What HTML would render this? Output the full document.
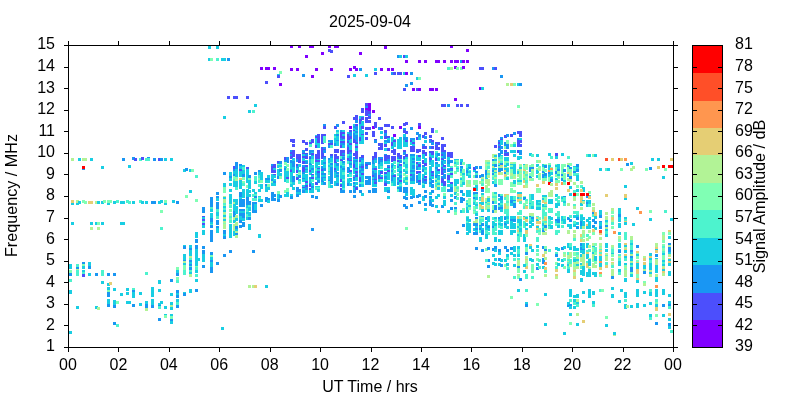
<!DOCTYPE html><html><head><meta charset="utf-8"><style>html,body{margin:0;padding:0;background:#fff;}svg{display:block;will-change:transform}text{font-family:"Liberation Sans", Arial, sans-serif;font-size:16px;fill:#000}</style></head><body><svg width="800" height="400" viewBox="0 0 800 400"><rect width="800" height="400" fill="#fff"/><g shape-rendering="crispEdges"><path fill="#8000ff" d="M298 46h3v2h-3zM309 46h5v2h-5zM450 46h3v2h-3zM328 46h3v2h-3zM334 46h5v2h-5zM290 46h3v2h-3zM384 46h3v3h-3zM466 49h3v3h-3zM359 52h3v3h-3zM321 52h3v3h-3zM305 55h3v3h-3zM466 60h3v3h-3zM405 60h3v3h-3zM435 60h5v3h-5zM462 60h3v3h-3zM443 60h3v3h-3zM454 60h5v3h-5zM424 60h3v3h-3zM418 60h3v3h-3zM450 60h3v3h-3zM454 66h3v1h-3zM353 66h3v2h-3zM454 67h2v2h-2zM353 68h5v1h-5zM462 66h3v3h-3zM265 67h5v3h-5zM273 67h3v3h-3zM260 67h3v3h-3zM391 68h3v3h-3zM330 68h3v3h-3zM355 69h3v2h-3zM349 68h3v3h-3zM315 68h3v3h-3zM380 68h3v3h-3zM296 68h3v3h-3zM290 68h3v3h-3zM387 68h3v3h-3zM405 72h3v3h-3zM311 75h3v3h-3zM279 83h3v3h-3zM479 87h2v3h-2zM429 88h5v3h-5zM412 88h3v3h-3zM435 88h3v3h-3zM418 88h3v3h-3zM454 98h3v3h-3zM368 103h3v5h-3zM365 108h6v2h-6zM368 110h3v1h-3zM372 110h3v3h-3zM372 126h2v2h-2zM349 126h3v3h-3zM399 126h3v3h-3zM372 128h3v1h-3zM418 126h3v3h-3zM393 134h3v3h-3z"/><path fill="#4c4ffc" d="M328 49h3v1h-3zM328 50h5v2h-5zM330 52h3v1h-3zM403 55h2v3h-2zM479 67h5v3h-5zM494 67h3v3h-3zM374 72h3v3h-3zM393 72h3v3h-3zM397 72h5v3h-5zM277 75h3v3h-3zM347 75h3v3h-3zM265 81h3v3h-3zM403 88h3v3h-3zM416 88h2v3h-2zM246 96h3v3h-3zM233 96h5v3h-5zM227 96h3v3h-3zM365 103h3v3h-3zM456 104h3v3h-3zM441 104h5v3h-5zM466 104h3v3h-3zM460 104h3v3h-3zM365 110h3v1h-3zM361 108h3v5h-3zM365 111h6v3h-6zM365 114h3v2h-3zM355 115h3v2h-3zM368 116h3v1h-3zM361 117h3v2h-3zM365 117h6v2h-6zM359 119h5v1h-5zM353 117h5v3h-5zM378 117h3v3h-3zM365 119h3v1h-3zM359 120h3v1h-3zM365 120h6v3h-6zM405 122h3v1h-3zM359 121h2v3h-2zM342 121h3v3h-3zM403 123h5v2h-5zM355 124h3v2h-3zM418 123h3v3h-3zM403 125h3v1h-3zM334 126h2v1h-2zM384 124h6v3h-6zM374 122h3v6h-3zM323 126h3v3h-3zM334 127h3v2h-3zM361 126h3v3h-3zM391 126h3v3h-3zM380 127h3v3h-3zM365 127h6v3h-6zM403 130h3v1h-3zM353 130h2v1h-2zM349 130h3v2h-3zM403 131h5v2h-5zM431 128h3v5h-3zM384 130h3v3h-3zM340 132h5v2h-5zM405 133h3v1h-3zM517 131h5v3h-5zM365 132h3v3h-3zM424 132h3v3h-3zM361 134h3v1h-3zM347 134h2v2h-2zM340 134h2v2h-2zM317 134h3v2h-3zM422 135h3v1h-3zM321 134h5v2h-5zM519 134h3v3h-3zM510 134h3v3h-3zM372 131h3v6h-3zM504 135h2v2h-2zM504 137h3v1h-3zM429 135h3v3h-3zM384 136h6v2h-6zM315 136h5v2h-5zM340 136h5v2h-5zM422 136h2v2h-2zM347 136h5v3h-5zM384 138h3v1h-3zM342 138h3v1h-3zM429 139h3v1h-3zM441 137h3v3h-3zM347 139h3v1h-3zM500 139h3v1h-3zM365 137h3v3h-3zM374 139h3v1h-3zM353 139h2v1h-2zM416 137h2v3h-2zM359 137h2v4h-2zM393 140h3v2h-3zM353 140h3v2h-3zM431 140h3v2h-3zM410 140h2v2h-2zM302 140h3v2h-3zM290 139h5v3h-5zM311 139h3v3h-3zM405 140h3v2h-3zM292 142h3v1h-3zM347 141h2v2h-2zM517 140h5v3h-5zM302 142h6v1h-6zM321 136h2v7h-2zM317 138h3v5h-3zM353 142h5v1h-5zM309 142h5v1h-5zM340 141h5v2h-5zM355 143h3v1h-3zM435 142h5v2h-5zM498 142h2v2h-2zM309 143h3v1h-3zM412 142h3v2h-3zM321 143h3v1h-3zM517 143h3v1h-3zM305 143h3v2h-3zM328 143h5v2h-5zM349 143h3v2h-3zM437 144h3v1h-3zM378 143h5v3h-5zM391 142h2v4h-2zM292 144h3v3h-3zM380 146h3v1h-3zM517 144h5v3h-5zM435 145h3v2h-3zM441 144h5v3h-5zM384 144h3v3h-3zM355 146h3v2h-3zM315 145h2v3h-2zM340 145h2v3h-2zM498 146h2v2h-2zM494 145h3v3h-3zM321 147h2v2h-2zM431 146h3v3h-3zM422 146h5v3h-5zM321 149h5v1h-5zM347 147h2v3h-2zM393 149h3v1h-3zM435 147h5v3h-5zM378 147h5v3h-5zM441 147h3v3h-3zM305 148h3v3h-3zM387 148h3v3h-3zM292 150h3v2h-3zM504 150h3v2h-3zM410 146h5v6h-5zM441 150h5v2h-5zM403 150h3v2h-3zM416 149h5v3h-5zM347 150h5v2h-5zM422 150h3v2h-3zM355 151h3v2h-3zM321 150h2v3h-2zM391 150h5v3h-5zM429 151h5v2h-5zM517 150h2v3h-2zM416 152h3v1h-3zM340 150h5v3h-5zM334 149h5v4h-5zM347 152h2v2h-2zM302 153h6v1h-6zM317 150h3v4h-3zM422 152h5v2h-5zM290 152h5v2h-5zM393 153h3v2h-3zM340 153h2v2h-2zM431 153h3v2h-3zM311 153h3v2h-3zM397 153h3v2h-3zM292 154h3v2h-3zM504 153h5v3h-5zM353 153h5v3h-5zM441 154h2v2h-2zM321 153h3v3h-3zM374 152h3v4h-3zM425 154h2v2h-2zM340 155h5v1h-5zM334 154h3v2h-3zM555 153h3v3h-3zM405 154h3v2h-3zM330 154h3v2h-3zM447 152h6v5h-6zM403 156h5v1h-5zM290 156h5v1h-5zM321 156h5v1h-5zM361 155h3v2h-3zM397 155h5v2h-5zM418 155h3v2h-3zM359 157h5v1h-5zM302 156h6v2h-6zM290 157h3v1h-3zM429 157h2v1h-2zM450 157h3v1h-3zM372 156h5v2h-5zM290 158h2v1h-2zM296 154h5v5h-5zM355 156h3v3h-3zM309 157h2v2h-2zM321 157h2v2h-2zM305 158h3v1h-3zM384 155h6v4h-6zM399 157h3v2h-3zM315 154h5v5h-5zM441 158h2v1h-2zM403 157h2v2h-2zM334 156h5v3h-5zM347 158h2v2h-2zM372 158h2v2h-2zM380 159h3v1h-3zM429 158h3v2h-3zM441 159h3v1h-3zM340 159h2v1h-2zM141 157h3v3h-3zM284 157h2v3h-2zM134 158h3v3h-3zM391 156h5v5h-5zM435 158h2v3h-2zM349 160h3v1h-3zM158 158h2v3h-2zM384 159h3v2h-3zM340 160h3v1h-3zM397 160h2v2h-2zM334 159h2v3h-2zM359 160h2v2h-2zM315 160h5v2h-5zM391 161h2v1h-2zM298 159h3v4h-3zM277 161h2v2h-2zM334 162h3v1h-3zM422 160h2v3h-2zM302 161h3v3h-3zM422 163h5v1h-5zM416 162h2v2h-2zM296 164h2v2h-2zM399 164h3v2h-3zM365 164h3v2h-3zM424 164h3v2h-3zM273 164h3v2h-3zM418 164h3v3h-3zM305 165h3v2h-3zM443 165h3v2h-3zM387 167h3v1h-3zM353 164h2v4h-2zM361 166h3v2h-3zM271 166h5v2h-5zM441 167h2v2h-2zM355 168h3v1h-3zM246 167h3v2h-3zM473 167h2v2h-2zM450 168h3v1h-3zM317 168h3v1h-3zM233 166h2v3h-2zM473 169h3v1h-3zM334 168h2v2h-2zM271 168h2v2h-2zM441 169h5v1h-5zM374 168h3v2h-3zM321 169h2v2h-2zM437 169h3v2h-3zM239 169h3v2h-3zM290 170h2v2h-2zM387 170h3v2h-3zM349 170h3v2h-3zM309 170h2v2h-2zM302 167h3v5h-3zM296 170h2v3h-2zM416 171h5v2h-5zM441 170h2v3h-2zM355 171h3v2h-3zM317 171h3v2h-3zM431 171h3v2h-3zM271 170h5v3h-5zM380 171h3v3h-3zM441 173h3v1h-3zM416 173h2v1h-2zM384 172h3v2h-3zM441 174h2v1h-2zM311 174h3v1h-3zM450 173h3v2h-3zM361 173h3v2h-3zM273 174h3v1h-3zM410 174h2v2h-2zM431 175h3v1h-3zM378 175h2v2h-2zM355 175h3v2h-3zM393 175h3v2h-3zM372 175h2v2h-2zM296 177h2v1h-2zM353 177h2v1h-2zM424 176h3v2h-3zM441 178h2v1h-2zM311 177h3v2h-3zM296 178h3v1h-3zM286 177h3v2h-3zM378 177h5v2h-5zM296 179h2v1h-2zM447 175h3v5h-3zM374 179h3v1h-3zM441 179h3v2h-3zM424 179h3v2h-3zM340 179h2v3h-2zM359 177h2v5h-2zM399 180h3v2h-3zM418 180h3v2h-3zM315 182h2v1h-2zM305 181h3v2h-3zM441 181h5v2h-5zM450 182h3v2h-3zM374 182h3v2h-3zM315 183h3v2h-3zM443 183h3v3h-3zM384 183h3v3h-3zM309 184h2v3h-2zM340 184h2v3h-2zM305 185h3v2h-3zM353 186h2v1h-2zM302 187h3v1h-3zM355 187h3v3h-3zM309 188h2v2h-2zM340 188h2v2h-2zM202 216h3v1h-3zM202 219h3v2h-3zM202 223h3v2h-3zM82 274h3v3h-3z"/><path fill="#1996f3" d="M397 55h2v3h-2zM227 58h3v3h-3zM460 60h2v3h-2zM492 67h2v3h-2zM359 68h3v3h-3zM391 72h2v3h-2zM410 72h3v3h-3zM302 74h3v3h-3zM500 75h3v3h-3zM410 82h3v3h-3zM519 83h3v3h-3zM405 84h3v3h-3zM447 104h3v3h-3zM365 106h3v2h-3zM368 114h3v2h-3zM355 120h3v3h-3zM323 124h3v2h-3zM336 124h3v3h-3zM353 126h5v2h-5zM355 128h3v1h-3zM403 128h3v2h-3zM378 127h2v3h-2zM356 129h2v1h-2zM410 127h3v3h-3zM340 130h2v2h-2zM355 131h3v2h-3zM416 132h3v2h-3zM416 134h5v1h-5zM513 132h3v3h-3zM353 133h2v2h-2zM349 132h3v4h-3zM384 133h3v3h-3zM336 134h3v2h-3zM506 134h3v3h-3zM418 135h3v2h-3zM353 135h5v4h-5zM500 137h3v2h-3zM340 138h2v1h-2zM424 136h3v3h-3zM403 137h5v3h-5zM517 138h2v2h-2zM340 139h3v1h-3zM355 139h3v1h-3zM410 138h5v2h-5zM336 140h3v1h-3zM347 140h2v1h-2zM328 140h5v2h-5zM498 140h2v2h-2zM384 140h6v2h-6zM429 140h2v2h-2zM356 140h2v2h-2zM429 142h5v1h-5zM387 142h3v1h-3zM374 140h3v3h-3zM330 142h3v1h-3zM504 142h2v2h-2zM498 144h2v1h-2zM431 143h3v2h-3zM435 144h2v1h-2zM340 143h5v2h-5zM504 144h5v2h-5zM422 144h3v2h-3zM498 145h3v1h-3zM334 143h2v3h-2zM347 145h2v2h-2zM500 146h3v2h-3zM328 145h2v3h-2zM506 146h3v3h-3zM429 146h2v3h-2zM323 147h3v2h-3zM498 148h5v1h-5zM498 149h3v1h-3zM498 150h5v1h-5zM309 150h5v2h-5zM290 150h2v2h-2zM504 152h5v1h-5zM302 150h3v3h-3zM500 151h3v2h-3zM323 150h3v3h-3zM403 152h3v2h-3zM441 152h5v2h-5zM349 152h3v2h-3zM498 153h5v1h-5zM498 154h3v1h-3zM384 154h3v1h-3zM403 154h2v1h-2zM342 153h3v2h-3zM309 152h2v3h-2zM519 150h3v5h-3zM437 153h3v3h-3zM311 155h3v1h-3zM290 154h2v2h-2zM410 154h5v2h-5zM305 154h3v2h-3zM498 155h2v2h-2zM309 156h2v1h-2zM132 157h3v1h-3zM435 157h2v1h-2zM330 156h3v2h-3zM147 157h3v1h-3zM378 157h5v2h-5zM323 157h3v2h-3zM353 157h2v2h-2zM443 154h3v5h-3zM397 157h2v2h-2zM349 156h3v4h-3zM412 158h3v2h-3zM374 158h3v2h-3zM328 158h2v2h-2zM132 158h2v2h-2zM342 157h3v3h-3zM315 159h2v1h-2zM359 158h5v2h-5zM286 157h3v3h-3zM378 159h2v1h-2zM160 158h3v3h-3zM492 159h2v2h-2zM387 159h3v2h-3zM153 158h3v3h-3zM290 160h2v1h-2zM347 160h2v1h-2zM443 160h3v1h-3zM122 158h3v3h-3zM296 159h2v3h-2zM353 160h5v2h-5zM378 160h5v2h-5zM429 160h2v2h-2zM284 160h5v2h-5zM447 160h6v3h-6zM279 161h3v2h-3zM290 161h5v2h-5zM399 160h3v3h-3zM412 161h3v2h-3zM342 161h3v2h-3zM287 162h2v1h-2zM372 160h2v3h-2zM372 163h3v1h-3zM441 161h2v3h-2zM323 162h3v2h-3zM403 162h2v2h-2zM277 163h5v1h-5zM447 163h3v1h-3zM353 162h2v2h-2zM378 162h2v2h-2zM309 163h2v1h-2zM435 162h3v2h-3zM365 162h6v2h-6zM305 161h3v3h-3zM349 163h3v2h-3zM500 163h3v2h-3zM309 164h3v1h-3zM368 164h3v1h-3zM460 162h2v3h-2zM330 163h3v2h-3zM441 164h3v1h-3zM498 165h2v1h-2zM567 165h2v1h-2zM239 164h3v2h-3zM361 164h3v2h-3zM336 163h3v3h-3zM422 165h2v1h-2zM626 163h3v3h-3zM271 164h2v2h-2zM422 166h3v1h-3zM302 165h3v2h-3zM567 166h3v1h-3zM292 163h3v4h-3zM494 164h3v3h-3zM296 166h2v1h-2zM387 165h3v2h-3zM576 164h3v3h-3zM359 166h2v2h-2zM296 167h3v1h-3zM347 167h2v1h-2zM321 166h2v2h-2zM340 166h2v2h-2zM391 165h2v3h-2zM468 167h3v1h-3zM460 166h3v2h-3zM544 165h3v3h-3zM397 166h2v2h-2zM469 168h2v1h-2zM412 165h3v4h-3zM235 162h3v7h-3zM529 167h5v2h-5zM479 166h3v3h-3zM475 166h3v3h-3zM365 166h3v3h-3zM435 167h3v2h-3zM321 168h5v1h-5zM569 167h3v2h-3zM649 167h3v3h-3zM311 168h3v2h-3zM361 168h3v2h-3zM416 166h2v4h-2zM284 168h2v2h-2zM82 169h3v1h-3zM372 168h2v2h-2zM290 169h2v1h-2zM347 168h3v2h-3zM342 168h3v2h-3zM305 169h3v1h-3zM447 169h6v2h-6zM233 169h2v2h-2zM323 169h3v2h-3zM498 168h5v3h-5zM557 169h3v2h-3zM359 170h5v1h-5zM334 170h2v1h-2zM460 169h2v2h-2zM185 168h3v3h-3zM576 169h3v2h-3zM529 169h2v3h-2zM542 171h2v1h-2zM334 171h3v1h-3zM258 170h3v2h-3zM410 170h5v2h-5zM573 171h6v1h-6zM498 171h3v1h-3zM563 169h3v3h-3zM279 169h3v3h-3zM391 170h2v2h-2zM447 171h3v1h-3zM422 169h2v3h-2zM492 170h2v2h-2zM359 171h2v2h-2zM399 171h3v2h-3zM573 172h3v1h-3zM347 170h2v3h-2zM475 171h3v2h-3zM466 170h2v3h-2zM443 170h3v3h-3zM372 171h2v2h-2zM542 172h3v1h-3zM302 172h3v2h-3zM504 172h2v2h-2zM555 171h2v3h-2zM336 172h3v2h-3zM548 172h2v2h-2zM544 173h3v1h-3zM372 173h5v2h-5zM355 173h3v2h-3zM431 173h3v2h-3zM481 174h3v1h-3zM492 173h2v2h-2zM321 173h5v2h-5zM485 170h2v5h-2zM223 172h3v3h-3zM254 172h3v3h-3zM561 174h2v2h-2zM233 174h2v2h-2zM443 174h3v2h-3zM542 174h5v2h-5zM435 175h5v1h-5zM567 174h2v2h-2zM529 176h2v1h-2zM567 176h5v1h-5zM336 175h3v2h-3zM242 174h3v3h-3zM479 175h5v2h-5zM399 175h3v3h-3zM542 176h2v2h-2zM412 174h3v4h-3zM248 175h3v3h-3zM317 173h3v5h-3zM441 176h5v2h-5zM435 176h2v2h-2zM229 176h3v2h-3zM475 175h3v3h-3zM298 175h3v3h-3zM529 177h3v1h-3zM479 177h2v1h-2zM321 177h5v1h-5zM302 178h3v1h-3zM374 175h3v4h-3zM443 178h3v1h-3zM429 178h2v1h-2zM384 176h3v3h-3zM349 178h3v1h-3zM569 177h3v2h-3zM309 177h2v2h-2zM365 176h6v3h-6zM277 176h2v3h-2zM265 178h5v2h-5zM372 179h2v1h-2zM368 179h3v1h-3zM330 167h3v13h-3zM429 179h3v1h-3zM397 178h2v2h-2zM410 178h5v3h-5zM271 179h2v2h-2zM561 178h2v3h-2zM321 178h2v3h-2zM391 175h2v6h-2zM422 178h2v3h-2zM328 180h5v1h-5zM353 178h2v3h-2zM550 179h3v3h-3zM431 180h3v2h-3zM374 180h3v2h-3zM321 181h3v1h-3zM416 175h2v7h-2zM292 176h3v6h-3zM429 182h5v1h-5zM416 182h5v1h-5zM422 181h5v2h-5zM384 181h3v2h-3zM273 181h3v2h-3zM317 180h3v3h-3zM424 183h3v1h-3zM353 182h2v2h-2zM330 181h3v3h-3zM309 183h2v1h-2zM429 183h3v1h-3zM323 182h3v3h-3zM418 183h3v2h-3zM365 180h6v5h-6zM397 182h2v3h-2zM336 183h3v3h-3zM347 183h2v3h-2zM265 184h2v2h-2zM494 184h3v3h-3zM359 184h2v3h-2zM431 184h3v4h-3zM311 186h3v2h-3zM450 187h3v2h-3zM397 187h5v2h-5zM296 187h3v2h-3zM305 187h3v3h-3zM447 189h6v3h-6zM399 189h3v3h-3zM296 189h5v3h-5zM481 189h3v3h-3zM353 190h3v3h-3zM431 190h3v3h-3zM460 190h3v3h-3zM403 187h5v6h-5zM302 190h3v3h-3zM349 190h3v3h-3zM387 190h3v3h-3zM340 190h5v3h-5zM368 190h3v3h-3zM372 188h5v5h-5zM424 190h3v3h-3zM359 190h3v3h-3zM271 192h3v2h-3zM473 192h5v2h-5zM216 192h3v3h-3zM418 194h3v1h-3zM498 194h2v2h-2zM563 196h3v1h-3zM403 196h3v1h-3zM454 196h3v1h-3zM416 195h5v2h-5zM239 192h3v5h-3zM271 194h5v3h-5zM296 194h3v3h-3zM498 196h5v1h-5zM353 195h3v3h-3zM216 196h3v2h-3zM460 197h3v1h-3zM279 195h3v3h-3zM416 197h3v1h-3zM265 197h3v1h-3zM311 195h3v3h-3zM271 197h3v1h-3zM424 195h3v3h-3zM586 196h2v2h-2zM410 196h5v2h-5zM429 196h3v2h-3zM254 196h3v2h-3zM290 196h3v3h-3zM403 197h5v2h-5zM315 196h3v3h-3zM454 197h2v2h-2zM523 197h3v2h-3zM410 198h3v1h-3zM473 197h2v2h-2zM523 199h2v1h-2zM500 197h3v3h-3zM265 198h5v2h-5zM405 199h3v1h-3zM460 198h5v3h-5zM271 198h5v3h-5zM510 200h6v1h-6zM246 197h3v4h-3zM429 200h2v2h-2zM450 199h3v3h-3zM277 199h3v3h-3zM265 200h2v2h-2zM510 201h3v2h-3zM460 201h3v2h-3zM176 201h3v3h-3zM492 201h2v3h-2zM252 202h5v2h-5zM418 201h3v3h-3zM151 201h5v3h-5zM586 202h2v2h-2zM429 202h3v2h-3zM498 203h2v2h-2zM246 201h5v4h-5zM403 204h3v2h-3zM429 204h5v2h-5zM441 205h2v1h-2zM424 203h3v3h-3zM239 199h6v8h-6zM431 206h3v1h-3zM403 206h5v1h-5zM410 204h3v3h-3zM260 204h3v3h-3zM210 197h3v10h-3zM513 203h3v5h-3zM441 206h3v2h-3zM216 202h3v7h-3zM454 207h3v2h-3zM498 207h5v2h-5zM405 207h3v2h-3zM498 209h2v1h-2zM494 205h3v5h-3zM450 207h3v3h-3zM252 204h2v6h-2zM239 209h6v2h-6zM492 210h2v3h-2zM202 207h3v6h-3zM252 210h5v3h-5zM233 211h2v3h-2zM592 212h2v2h-2zM233 214h3v1h-3zM239 213h6v3h-6zM233 215h2v2h-2zM529 216h2v1h-2zM618 214h3v3h-3zM481 216h3v1h-3zM567 217h2v1h-2zM599 215h3v3h-3zM242 216h3v2h-3zM498 217h2v2h-2zM475 217h3v2h-3zM531 217h3v2h-3zM567 218h3v1h-3zM504 217h2v3h-2zM485 217h2v3h-2zM248 217h3v3h-3zM567 219h5v1h-5zM576 217h3v3h-3zM555 219h5v2h-5zM510 219h6v2h-6zM592 219h3v2h-3zM513 221h3v1h-3zM599 221h3v1h-3zM239 220h3v2h-3zM569 220h3v2h-3zM592 221h5v1h-5zM210 218h3v4h-3zM239 222h6v1h-6zM557 221h3v2h-3zM504 223h2v1h-2zM594 222h3v2h-3zM216 220h3v5h-3zM504 224h3v1h-3zM242 223h3v2h-3zM481 223h3v2h-3zM580 221h2v5h-2zM485 225h2v1h-2zM473 223h5v3h-5zM479 225h5v1h-5zM239 225h6v2h-6zM462 224h3v3h-3zM605 225h3v2h-3zM592 225h3v2h-3zM216 226h3v2h-3zM492 226h2v2h-2zM592 227h2v1h-2zM487 226h3v2h-3zM239 227h3v1h-3zM544 225h3v3h-3zM210 225h3v3h-3zM599 226h3v3h-3zM235 226h3v3h-3zM576 226h3v3h-3zM479 228h2v2h-2zM475 228h3v2h-3zM542 230h2v1h-2zM311 228h3v3h-3zM542 231h3v1h-3zM223 230h3v4h-3zM456 231h3v3h-3zM235 233h3v2h-3zM473 232h5v3h-5zM481 230h3v5h-3zM223 236h3v3h-3zM210 230h3v12h-3zM195 239h3v4h-3zM668 243h3v2h-3zM580 243h2v3h-2zM494 246h3v2h-3zM636 245h3v3h-3zM561 247h2v2h-2zM492 248h5v1h-5zM580 247h2v2h-2zM202 246h3v3h-3zM542 246h2v3h-2zM183 246h3v3h-3zM195 245h3v4h-3zM504 246h3v3h-3zM510 247h3v3h-3zM475 247h3v3h-3zM561 249h3v1h-3zM487 247h3v3h-3zM189 248h3v2h-3zM580 249h5v1h-5zM492 249h2v2h-2zM544 249h3v2h-3zM506 249h3v3h-3zM668 247h3v5h-3zM498 249h3v3h-3zM630 250h3v2h-3zM481 249h3v3h-3zM229 250h3v3h-3zM252 250h3v3h-3zM618 250h3v3h-3zM202 250h3v4h-3zM525 252h3v3h-3zM210 252h3v3h-3zM655 254h3v3h-3zM555 254h3v3h-3zM223 254h3v3h-3zM630 256h3v2h-3zM498 258h3v1h-3zM542 258h2v2h-2zM498 259h2v2h-2zM183 260h3v1h-3zM488 259h2v3h-2zM189 260h3v2h-3zM210 260h3v2h-3zM542 260h3v2h-3zM82 262h3v2h-3zM542 262h2v2h-2zM216 262h3v3h-3zM189 264h3v2h-3zM500 264h3v3h-3zM202 265h3v3h-3zM487 265h3v3h-3zM517 266h3v2h-3zM88 266h3v3h-3zM536 267h2v2h-2zM76 267h3v2h-3zM536 269h3v1h-3zM189 267h3v3h-3zM630 267h3v5h-3zM210 267h3v6h-3zM643 271h3v3h-3zM107 273h3v3h-3zM176 273h3v3h-3zM69 273h3v3h-3zM113 273h3v3h-3zM95 273h3v3h-3zM611 276h3v3h-3zM519 278h3v3h-3zM170 279h3v3h-3zM132 290h3v2h-3zM195 289h3v3h-3zM176 290h3v3h-3zM183 293h3v3h-3zM107 292h3v5h-3zM176 295h3v3h-3zM569 304h3v1h-3zM668 304h3v2h-3zM567 305h5v1h-5zM158 305h3v1h-3zM107 304h3v3h-3zM567 306h2v1h-2zM132 304h3v3h-3zM525 304h3v3h-3zM662 304h3v3h-3zM145 304h3v4h-3zM151 305h3v3h-3zM176 305h3v3h-3zM113 305h3v3h-3zM158 318h3v3h-3zM170 319h3v2h-3zM113 322h3v3h-3zM655 322h3v3h-3zM668 323h3v3h-3z"/><path fill="#19cee3" d="M208 46h3v3h-3zM216 46h3v3h-3zM405 55h3v3h-3zM399 55h3v3h-3zM208 58h2v3h-2zM221 58h5v3h-5zM374 68h3v3h-3zM403 72h2v3h-2zM277 74h3v1h-3zM353 74h3v3h-3zM365 74h3v3h-3zM416 77h2v3h-2zM517 83h2v3h-2zM481 87h3v3h-3zM254 104h3v3h-3zM248 110h3v3h-3zM359 116h5v1h-5zM359 117h2v2h-2zM223 116h3v3h-3zM361 121h3v3h-3zM353 124h2v2h-2zM359 124h5v2h-5zM359 126h2v3h-2zM353 128h2v1h-2zM353 129h3v1h-3zM359 129h3v1h-3zM355 130h3v1h-3zM336 130h3v2h-3zM342 130h3v2h-3zM353 131h2v2h-2zM347 132h2v2h-2zM359 130h5v4h-5zM380 131h3v3h-3zM355 133h3v2h-3zM359 134h2v1h-2zM342 134h3v2h-3zM315 135h2v1h-2zM334 134h2v2h-2zM359 135h5v2h-5zM403 134h3v3h-3zM336 136h3v2h-3zM380 136h3v3h-3zM391 137h3v2h-3zM399 137h3v2h-3zM387 138h3v2h-3zM418 137h3v3h-3zM334 138h5v2h-5zM350 139h2v1h-2zM519 138h3v2h-3zM391 139h5v1h-5zM343 139h2v1h-2zM340 140h5v1h-5zM361 137h3v4h-3zM334 140h2v1h-2zM412 140h3v2h-3zM391 140h2v2h-2zM403 140h2v2h-2zM424 140h3v3h-3zM334 141h5v2h-5zM315 138h2v5h-2zM349 140h3v3h-3zM384 142h3v2h-3zM359 141h5v3h-5zM410 142h2v2h-2zM347 143h2v2h-2zM410 144h5v1h-5zM500 140h3v5h-3zM315 143h5v2h-5zM412 145h3v1h-3zM336 143h3v3h-3zM393 142h3v4h-3zM355 144h3v2h-3zM391 146h5v1h-5zM403 142h5v5h-5zM513 144h3v3h-3zM342 145h3v3h-3zM317 145h3v3h-3zM397 139h5v10h-5zM391 147h3v2h-3zM349 145h3v5h-3zM384 148h3v3h-3zM355 148h3v3h-3zM311 152h3v1h-3zM510 150h6v3h-6zM529 153h3v1h-3zM429 153h2v2h-2zM548 153h3v3h-3zM561 153h3v3h-3zM302 154h3v2h-3zM435 153h2v3h-2zM500 155h3v1h-3zM349 154h3v2h-3zM529 154h2v2h-2zM536 154h3v3h-3zM342 156h3v1h-3zM416 155h2v2h-2zM594 154h3v3h-3zM435 156h3v1h-3zM588 154h3v3h-3zM494 155h3v2h-3zM429 155h5v2h-5zM513 154h3v3h-3zM422 154h3v4h-3zM441 156h2v2h-2zM347 156h2v2h-2zM410 156h5v2h-5zM431 157h3v1h-3zM311 156h3v3h-3zM555 156h3v3h-3zM405 157h3v2h-3zM517 156h5v3h-5zM422 158h5v1h-5zM323 159h3v1h-3zM403 159h2v1h-2zM447 157h3v3h-3zM330 158h3v2h-3zM517 159h3v1h-3zM317 159h3v1h-3zM454 159h5v1h-5zM410 158h2v2h-2zM302 158h3v2h-3zM353 159h5v1h-5zM78 158h3v3h-3zM441 160h2v1h-2zM164 158h3v3h-3zM657 158h3v3h-3zM292 158h3v3h-3zM410 160h5v1h-5zM302 160h6v1h-6zM651 158h3v3h-3zM170 158h3v3h-3zM494 159h3v2h-3zM504 157h5v4h-5zM416 157h5v4h-5zM437 158h3v3h-3zM90 158h3v3h-3zM321 160h5v2h-5zM336 159h3v3h-3zM328 160h5v2h-5zM431 160h3v2h-3zM460 159h3v3h-3zM374 160h3v3h-3zM328 162h2v1h-2zM424 159h3v4h-3zM309 159h2v4h-2zM410 161h2v2h-2zM349 161h3v2h-3zM454 162h2v2h-2zM391 163h2v1h-2zM361 160h3v4h-3zM418 162h3v2h-3zM443 161h3v3h-3zM380 162h3v2h-3zM321 162h2v2h-2zM384 161h6v3h-6zM321 164h5v1h-5zM557 164h3v1h-3zM630 162h3v3h-3zM510 164h6v1h-6zM342 163h3v2h-3zM410 163h5v2h-5zM506 163h3v2h-3zM523 164h2v1h-2zM391 164h3v1h-3zM429 162h5v3h-5zM315 162h5v3h-5zM536 164h3v2h-3zM416 164h2v2h-2zM393 165h3v1h-3zM340 165h2v1h-2zM397 164h2v2h-2zM242 165h3v1h-3zM334 163h2v3h-2zM431 165h3v1h-3zM504 165h5v1h-5zM359 164h2v2h-2zM315 165h3v1h-3zM378 164h5v2h-5zM492 164h2v2h-2zM372 164h3v2h-3zM290 163h2v4h-2zM298 164h3v3h-3zM468 164h3v3h-3zM504 166h3v1h-3zM435 164h5v3h-5zM328 165h5v2h-5zM548 165h3v2h-3zM447 164h3v3h-3zM536 166h2v1h-2zM239 166h6v1h-6zM542 164h2v3h-2zM441 165h2v2h-2zM555 165h5v2h-5zM284 166h2v1h-2zM429 166h5v1h-5zM277 165h5v2h-5zM573 166h3v1h-3zM513 165h3v2h-3zM309 165h5v3h-5zM284 167h3v1h-3zM349 165h3v3h-3zM128 165h3v3h-3zM372 166h5v2h-5zM334 166h5v2h-5zM342 166h3v2h-3zM355 162h3v6h-3zM277 167h2v1h-2zM315 166h5v2h-5zM323 165h3v3h-3zM405 164h3v4h-3zM239 167h3v2h-3zM510 167h6v2h-6zM519 167h3v2h-3zM391 168h2v1h-2zM447 168h3v1h-3zM460 168h3v1h-3zM422 167h5v2h-5zM290 167h5v2h-5zM399 166h3v3h-3zM353 168h2v1h-2zM378 166h2v3h-2zM456 168h3v1h-3zM576 167h3v2h-3zM101 166h3v3h-3zM305 167h3v2h-3zM410 165h2v4h-2zM557 167h3v2h-3zM443 167h3v2h-3zM424 169h3v1h-3zM466 168h3v2h-3zM504 168h5v2h-5zM384 168h6v2h-6zM418 167h3v3h-3zM296 168h3v2h-3zM309 168h2v2h-2zM548 167h2v3h-2zM391 169h3v1h-3zM359 168h2v2h-2zM273 168h3v2h-3zM410 169h5v1h-5zM340 168h2v2h-2zM492 168h5v2h-5zM384 170h3v1h-3zM607 168h3v3h-3zM336 168h3v3h-3zM473 170h3v1h-3zM599 168h3v3h-3zM536 170h2v1h-2zM429 167h3v4h-3zM242 170h3v1h-3zM372 170h5v1h-5zM403 169h2v2h-2zM235 169h3v2h-3zM284 170h2v1h-2zM183 169h2v2h-2zM435 169h2v2h-2zM353 169h5v2h-5zM397 169h5v2h-5zM317 169h3v2h-3zM378 170h5v1h-5zM298 170h3v2h-3zM403 171h5v1h-5zM340 170h5v2h-5zM292 169h3v3h-3zM183 171h3v1h-3zM397 171h2v1h-2zM506 170h3v2h-3zM311 170h3v2h-3zM277 169h2v3h-2zM473 171h2v1h-2zM189 169h2v3h-2zM328 171h2v1h-2zM536 171h3v2h-3zM374 171h3v2h-3zM468 171h3v2h-3zM391 172h2v1h-2zM277 172h3v1h-3zM309 172h5v1h-5zM460 171h2v2h-2zM494 172h3v1h-3zM290 172h5v1h-5zM305 170h3v3h-3zM321 171h3v2h-3zM361 171h3v2h-3zM424 172h3v2h-3zM435 171h5v3h-5zM334 172h2v2h-2zM309 173h3v1h-3zM233 171h5v3h-5zM536 173h2v1h-2zM239 171h6v3h-6zM349 172h3v2h-3zM387 172h3v2h-3zM353 171h2v3h-2zM378 171h2v3h-2zM391 173h3v1h-3zM405 172h3v2h-3zM410 172h5v2h-5zM550 172h3v2h-3zM517 171h2v3h-2zM513 169h3v5h-3zM296 174h2v1h-2zM378 174h3v1h-3zM548 174h5v1h-5zM315 171h2v4h-2zM435 174h3v1h-3zM422 174h5v1h-5zM399 173h3v2h-3zM334 174h5v1h-5zM246 169h3v6h-3zM309 174h2v1h-2zM271 174h2v1h-2zM391 174h5v1h-5zM359 173h2v2h-2zM466 173h2v2h-2zM340 172h2v3h-2zM258 172h5v3h-5zM462 173h3v2h-3zM384 174h6v2h-6zM466 175h5v1h-5zM548 175h3v1h-3zM290 173h3v3h-3zM229 172h3v4h-3zM422 175h3v1h-3zM277 173h5v3h-5zM557 174h3v2h-3zM429 171h2v5h-2zM239 174h3v3h-3zM284 171h5v6h-5zM359 175h5v2h-5zM334 175h2v2h-2zM311 175h3v2h-3zM321 175h5v2h-5zM235 174h3v3h-3zM347 174h2v3h-2zM353 175h2v2h-2zM380 175h3v2h-3zM548 176h2v1h-2zM271 175h5v3h-5zM422 176h2v2h-2zM468 176h3v2h-3zM302 174h6v4h-6zM315 177h2v1h-2zM536 175h2v3h-2zM397 177h2v1h-2zM267 175h3v3h-3zM334 177h5v1h-5zM485 175h2v3h-2zM544 176h3v2h-3zM429 176h5v2h-5zM410 176h2v2h-2zM485 178h3v1h-3zM424 178h3v1h-3zM555 178h2v1h-2zM271 178h3v1h-3zM340 175h5v4h-5zM387 176h3v3h-3zM305 178h3v1h-3zM662 176h3v3h-3zM372 177h2v2h-2zM550 177h3v2h-3zM431 178h3v1h-3zM246 175h2v5h-2zM384 179h6v1h-6zM418 173h3v7h-3zM460 178h2v2h-2zM260 175h3v5h-3zM506 177h3v3h-3zM399 178h3v2h-3zM437 176h3v4h-3zM315 178h5v2h-5zM328 176h2v4h-2zM555 179h3v1h-3zM405 177h3v3h-3zM384 180h3v1h-3zM336 178h3v3h-3zM298 179h3v2h-3zM302 179h6v2h-6zM355 177h3v4h-3zM576 175h3v6h-3zM229 178h3v3h-3zM323 178h3v3h-3zM273 179h3v2h-3zM393 177h3v4h-3zM403 180h2v2h-2zM361 177h3v5h-3zM290 176h2v6h-2zM378 179h2v3h-2zM309 179h2v3h-2zM517 180h5v2h-5zM397 180h2v2h-2zM284 177h2v5h-2zM563 180h3v2h-3zM435 180h2v2h-2zM302 181h3v1h-3zM347 179h5v3h-5zM429 180h2v2h-2zM265 180h5v3h-5zM334 181h5v2h-5zM447 180h3v3h-3zM246 180h5v3h-5zM391 181h5v2h-5zM403 182h5v1h-5zM347 182h3v1h-3zM309 182h3v1h-3zM387 181h3v3h-3zM355 182h3v2h-3zM292 182h3v2h-3zM372 180h2v4h-2zM410 181h5v3h-5zM254 181h3v3h-3zM454 179h5v5h-5zM492 181h2v3h-2zM513 180h3v4h-3zM399 182h3v2h-3zM462 182h3v3h-3zM405 183h3v2h-3zM321 182h2v3h-2zM305 183h3v2h-3zM353 184h5v1h-5zM290 184h5v1h-5zM437 183h3v2h-3zM441 183h2v3h-2zM311 183h3v3h-3zM271 183h5v3h-5zM393 183h3v3h-3zM334 183h2v3h-2zM353 185h3v1h-3zM454 184h3v2h-3zM229 183h3v3h-3zM349 183h3v3h-3zM475 185h3v2h-3zM372 184h5v3h-5zM361 184h3v3h-3zM355 186h3v1h-3zM223 183h3v4h-3zM233 181h5v6h-5zM265 186h2v1h-2zM290 185h3v2h-3zM447 184h6v3h-6zM302 185h3v2h-3zM429 184h2v3h-2zM399 186h3v1h-3zM315 186h5v1h-5zM422 185h3v3h-3zM330 185h3v3h-3zM342 181h3v7h-3zM473 187h5v1h-5zM624 185h3v3h-3zM239 180h3v9h-3zM410 187h3v2h-3zM569 186h3v3h-3zM582 187h3v2h-3zM248 183h3v6h-3zM260 184h3v5h-3zM311 188h3v2h-3zM265 187h5v3h-5zM353 187h2v3h-2zM292 187h3v3h-3zM246 189h3v1h-3zM384 187h6v3h-6zM302 188h3v2h-3zM437 187h3v3h-3zM476 188h2v3h-2zM265 190h3v2h-3zM384 190h3v2h-3zM258 189h3v3h-3zM576 189h3v3h-3zM317 189h3v3h-3zM583 189h2v3h-2zM229 189h3v3h-3zM252 189h3v3h-3zM309 190h5v3h-5zM189 190h3v3h-3zM246 190h5v3h-5zM305 190h3v3h-3zM454 192h3v1h-3zM429 192h2v1h-2zM286 192h3v2h-3zM296 192h5v2h-5zM246 193h3v1h-3zM517 192h5v2h-5zM254 192h3v2h-3zM494 192h3v2h-3zM454 193h2v2h-2zM277 194h3v1h-3zM410 189h5v6h-5zM429 193h3v2h-3zM299 194h2v1h-2zM481 193h3v2h-3zM473 194h2v1h-2zM412 195h3v1h-3zM589 195h2v1h-2zM361 193h3v3h-3zM462 193h3v3h-3zM555 194h3v2h-3zM405 193h3v3h-3zM569 193h3v3h-3zM290 194h3v2h-3zM437 194h3v2h-3zM284 194h5v3h-5zM258 196h3v1h-3zM246 194h5v3h-5zM542 195h5v2h-5zM435 196h5v1h-5zM242 189h3v8h-3zM555 196h2v1h-2zM466 190h5v7h-5zM450 194h3v3h-3zM422 196h2v2h-2zM277 195h2v3h-2zM239 197h6v1h-6zM479 197h2v1h-2zM387 196h3v3h-3zM277 198h3v1h-3zM239 198h3v1h-3zM223 197h3v2h-3zM443 196h3v3h-3zM429 198h3v1h-3zM435 197h3v2h-3zM561 197h2v2h-2zM517 197h2v2h-2zM475 197h3v3h-3zM531 194h3v6h-3zM498 198h2v2h-2zM510 196h3v4h-3zM429 199h5v1h-5zM624 198h3v2h-3zM542 198h2v2h-2zM422 198h3v3h-3zM498 200h5v1h-5zM582 200h3v1h-3zM160 200h3v1h-3zM216 198h3v3h-3zM536 200h5v2h-5zM487 198h3v4h-3zM233 199h5v3h-5zM258 199h5v3h-5zM431 200h3v2h-3zM586 200h5v2h-5zM78 201h3v2h-3zM485 202h2v1h-2zM536 202h2v1h-2zM158 201h5v2h-5zM267 200h3v3h-3zM563 201h3v2h-3zM172 200h3v3h-3zM101 201h2v2h-2zM500 201h3v2h-3zM113 201h3v3h-3zM548 199h5v5h-5zM235 202h3v2h-3zM76 203h5v1h-5zM145 201h3v3h-3zM101 203h3v1h-3zM158 203h3v1h-3zM479 202h5v2h-5zM588 202h3v2h-3zM97 201h3v3h-3zM473 202h2v2h-2zM141 201h3v3h-3zM132 201h3v3h-3zM120 201h5v3h-5zM580 203h2v1h-2zM229 194h3v10h-3zM529 203h2v1h-2zM536 203h5v2h-5zM466 203h2v2h-2zM164 203h3v2h-3zM233 204h5v1h-5zM71 203h3v2h-3zM76 204h3v1h-3zM473 204h5v1h-5zM481 204h3v1h-3zM107 203h3v2h-3zM475 205h3v1h-3zM233 205h3v1h-3zM555 203h5v3h-5zM580 204h3v2h-3zM443 200h3v6h-3zM510 203h3v3h-3zM542 204h2v2h-2zM586 204h2v3h-2zM468 205h3v2h-3zM542 206h5v1h-5zM246 205h2v2h-2zM500 205h3v2h-3zM555 206h3v2h-3zM223 206h3v2h-3zM246 207h5v1h-5zM435 205h3v3h-3zM531 206h3v3h-3zM536 207h5v3h-5zM466 207h2v3h-2zM254 204h3v6h-3zM636 207h3v3h-3zM424 208h3v3h-3zM233 206h5v5h-5zM248 208h3v3h-3zM487 209h3v3h-3zM223 210h3v2h-3zM210 209h3v3h-3zM481 209h3v3h-3zM500 209h3v3h-3zM447 210h3v3h-3zM460 210h2v3h-2zM239 211h6v2h-6zM466 210h3v3h-3zM437 210h3v3h-3zM618 208h3v6h-3zM235 211h3v3h-3zM246 212h5v2h-5zM599 210h3v5h-3zM475 213h3v3h-3zM248 214h3v2h-3zM216 212h3v4h-3zM548 216h3v1h-3zM580 215h3v2h-3zM223 215h3v2h-3zM523 216h2v1h-2zM504 216h5v1h-5zM573 215h6v2h-6zM239 216h3v2h-3zM573 217h3v1h-3zM210 213h3v5h-3zM548 217h5v2h-5zM557 217h3v2h-3zM510 216h6v3h-6zM594 216h3v3h-3zM588 217h3v2h-3zM506 217h3v2h-3zM561 216h2v3h-2zM494 217h3v2h-3zM466 217h3v2h-3zM500 216h3v3h-3zM624 217h3v2h-3zM525 217h3v2h-3zM202 217h3v2h-3zM235 218h3v2h-3zM536 219h2v1h-2zM580 217h5v3h-5zM550 219h3v1h-3zM239 218h6v2h-6zM246 217h2v3h-2zM586 219h5v1h-5zM536 220h3v1h-3zM531 219h3v2h-3zM487 216h3v5h-3zM586 220h3v1h-3zM498 219h5v2h-5zM561 219h5v2h-5zM670 218h3v3h-3zM580 220h3v1h-3zM223 219h3v2h-3zM233 220h5v1h-5zM242 220h3v1h-3zM466 219h5v2h-5zM649 218h3v3h-3zM485 221h5v1h-5zM605 220h3v2h-3zM233 221h3v1h-3zM618 217h3v5h-3zM468 221h3v1h-3zM529 221h5v1h-5zM500 221h3v1h-3zM492 221h2v1h-2zM586 221h5v1h-5zM529 222h3v1h-3zM517 219h5v4h-5zM492 222h3v1h-3zM510 221h3v2h-3zM555 221h2v2h-2zM504 221h5v2h-5zM233 222h2v1h-2zM529 223h5v1h-5zM576 222h3v2h-3zM210 222h3v2h-3zM506 223h3v1h-3zM563 221h3v3h-3zM485 222h3v3h-3zM95 222h2v3h-2zM531 224h3v1h-3zM498 223h5v2h-5zM71 222h3v3h-3zM101 222h3v3h-3zM120 222h5v3h-5zM624 222h3v3h-3zM573 224h6v1h-6zM90 222h3v3h-3zM487 225h3v1h-3zM548 225h5v1h-5zM632 223h3v3h-3zM582 221h3v5h-3zM519 223h3v3h-3zM529 225h5v1h-5zM504 225h3v1h-3zM588 222h3v4h-3zM492 223h5v3h-5zM542 223h2v3h-2zM525 223h3v3h-3zM500 225h3v1h-3zM599 222h3v4h-3zM573 225h3v2h-3zM567 224h5v3h-5zM475 226h3v2h-3zM536 226h3v2h-3zM557 225h3v3h-3zM618 223h3v5h-3zM485 226h2v2h-2zM529 226h3v2h-3zM479 226h3v2h-3zM504 226h5v2h-5zM517 226h2v2h-2zM202 225h3v3h-3zM586 226h5v3h-5zM510 223h6v6h-6zM569 227h3v2h-3zM594 227h3v2h-3zM550 226h3v3h-3zM506 228h3v1h-3zM580 226h2v3h-2zM485 228h5v2h-5zM248 224h3v6h-3zM481 228h3v2h-3zM473 228h2v2h-2zM595 229h2v1h-2zM525 228h3v2h-3zM542 228h2v2h-2zM605 229h3v2h-3zM488 230h2v1h-2zM235 229h3v2h-3zM473 230h5v1h-5zM466 223h5v8h-5zM475 231h3v1h-3zM468 231h3v1h-3zM519 228h3v4h-3zM510 230h6v3h-6zM216 228h3v5h-3zM466 232h5v1h-5zM498 230h5v5h-5zM618 232h3v3h-3zM510 233h3v2h-3zM466 233h3v2h-3zM202 230h3v5h-3zM223 234h3v2h-3zM517 234h2v2h-2zM233 231h2v5h-2zM605 234h3v3h-3zM523 234h2v3h-2zM195 232h3v6h-3zM258 234h3v4h-3zM229 224h3v14h-3zM485 234h3v5h-3zM668 236h3v3h-3zM523 237h3v5h-3zM479 237h3v5h-3zM498 239h3v3h-3zM494 237h3v5h-3zM630 243h3v2h-3zM586 243h3v2h-3zM582 243h3v3h-3zM183 245h3v1h-3zM592 246h3v1h-3zM580 246h5v1h-5zM567 243h2v4h-2zM624 245h3v2h-3zM525 244h3v3h-3zM536 245h3v3h-3zM605 243h3v5h-3zM573 246h3v2h-3zM618 243h3v5h-3zM189 245h3v3h-3zM555 247h3v1h-3zM586 245h2v3h-2zM567 247h5v1h-5zM517 246h3v3h-3zM582 247h3v2h-3zM529 246h3v3h-3zM563 246h3v3h-3zM655 249h3v1h-3zM618 249h3v1h-3zM555 248h5v2h-5zM569 248h3v2h-3zM557 250h3v1h-3zM573 248h6v3h-6zM605 249h3v3h-3zM531 249h3v3h-3zM494 249h3v3h-3zM513 246h3v6h-3zM580 250h5v3h-5zM624 250h3v3h-3zM668 252h3v2h-3zM630 252h3v2h-3zM582 253h3v1h-3zM510 252h3v2h-3zM592 252h2v2h-2zM611 253h3v1h-3zM498 252h3v3h-3zM510 254h6v1h-6zM662 253h3v2h-3zM189 250h3v6h-3zM636 254h3v2h-3zM649 253h3v3h-3zM513 255h3v2h-3zM517 254h3v3h-3zM492 254h3v3h-3zM506 254h3v3h-3zM580 254h2v3h-2zM195 249h3v9h-3zM624 256h3v2h-3zM586 254h3v4h-3zM655 258h3v1h-3zM586 258h2v1h-2zM529 258h3v1h-3zM183 254h3v6h-3zM210 257h3v3h-3zM649 258h3v2h-3zM668 259h3v2h-3zM557 258h3v3h-3zM630 258h3v3h-3zM594 256h3v5h-3zM529 259h5v2h-5zM195 258h5v3h-5zM561 259h2v2h-2zM494 258h3v3h-3zM573 259h6v2h-6zM599 256h3v5h-3zM561 261h3v1h-3zM531 261h3v1h-3zM573 261h3v1h-3zM504 259h3v3h-3zM662 260h3v2h-3zM500 259h3v3h-3zM202 254h3v8h-3zM492 262h3v1h-3zM498 263h3v1h-3zM189 262h3v2h-3zM630 263h3v2h-3zM183 263h3v2h-3zM492 263h5v2h-5zM580 263h2v2h-2zM624 263h3v2h-3zM668 263h3v3h-3zM536 263h3v3h-3zM561 264h3v2h-3zM557 263h3v3h-3zM618 261h3v5h-3zM195 261h3v5h-3zM576 264h3v2h-3zM588 259h3v7h-3zM662 264h3v2h-3zM506 263h3v3h-3zM567 264h2v2h-2zM498 264h2v2h-2zM494 265h3v1h-3zM88 262h3v4h-3zM523 264h3v3h-3zM542 266h3v1h-3zM210 262h3v5h-3zM561 266h2v1h-2zM513 264h3v3h-3zM599 263h3v4h-3zM69 264h3v5h-3zM82 266h3v3h-3zM636 263h3v6h-3zM643 265h3v4h-3zM542 267h2v2h-2zM582 266h3v4h-3zM649 263h3v7h-3zM662 269h3v2h-3zM618 269h3v3h-3zM588 269h3v3h-3zM82 270h3v2h-3zM655 265h3v8h-3zM567 269h3v4h-3zM523 270h3v3h-3zM195 270h3v3h-3zM176 270h3v3h-3zM189 272h3v2h-3zM649 272h3v2h-3zM592 272h5v3h-5zM580 270h5v5h-5zM668 271h3v5h-3zM582 275h3v1h-3zM88 273h3v3h-3zM630 274h3v3h-3zM594 275h3v2h-3zM586 272h5v5h-5zM580 278h3v4h-3zM655 277h3v5h-3zM195 279h3v3h-3zM624 278h3v4h-3zM636 280h3v3h-3zM101 281h3v3h-3zM158 280h3v4h-3zM107 283h2v2h-2zM107 285h3v1h-3zM265 285h3v3h-3zM107 287h3v3h-3zM611 287h3v3h-3zM113 288h3v3h-3zM126 288h3v3h-3zM620 289h3v3h-3zM517 289h3v3h-3zM158 289h3v3h-3zM189 289h3v4h-3zM183 292h3v1h-3zM582 291h3v3h-3zM643 291h3v3h-3zM69 290h3v4h-3zM126 292h3v3h-3zM592 291h3v4h-3zM576 294h3v1h-3zM139 292h3v3h-3zM662 289h3v6h-3zM176 293h3v2h-3zM120 293h3v3h-3zM544 293h3v3h-3zM170 293h3v3h-3zM649 292h3v4h-3zM668 294h3v3h-3zM636 289h3v8h-3zM655 289h3v8h-3zM569 289h3v8h-3zM151 287h3v10h-3zM132 292h3v6h-3zM588 289h3v9h-3zM624 292h3v6h-3zM573 295h6v3h-6zM611 294h3v4h-3zM176 299h3v3h-3zM573 299h3v3h-3zM618 300h3v3h-3zM582 300h3v3h-3zM160 301h3v2h-3zM668 301h3v3h-3zM567 302h3v2h-3zM126 301h5v3h-5zM592 301h3v3h-3zM576 302h3v2h-3zM145 301h3v3h-3zM158 303h5v1h-5zM107 299h3v5h-3zM525 302h3v2h-3zM113 300h3v5h-3zM151 299h3v6h-3zM158 304h3v1h-3zM170 302h3v3h-3zM567 304h2v1h-2zM624 304h3v1h-3zM649 302h3v3h-3zM139 303h3v3h-3zM655 304h3v3h-3zM95 306h3v1h-3zM643 304h3v3h-3zM636 303h3v5h-3zM630 305h3v3h-3zM624 305h2v3h-2zM95 307h2v2h-2zM569 306h3v3h-3zM164 306h3v3h-3zM624 308h3v1h-3zM76 306h3v3h-3zM573 306h3v3h-3zM170 307h3v3h-3zM164 314h3v1h-3zM569 313h3v3h-3zM170 314h3v2h-3zM662 314h3v3h-3zM649 314h3v3h-3zM668 318h3v3h-3zM170 321h3v3h-3zM544 323h3v3h-3zM576 323h3v3h-3zM605 324h3v3h-3zM668 326h3v3h-3zM221 327h3v3h-3zM69 331h3v3h-3zM563 332h3v3h-3zM613 332h3v3h-3z"/><path fill="#4df3ce" d="M216 58h3v3h-3zM447 67h3v3h-3zM252 110h3v3h-3zM336 132h3v2h-3zM334 136h2v2h-2zM309 140h2v2h-2zM323 136h3v7h-3zM328 142h2v1h-2zM309 144h3v3h-3zM330 145h3v3h-3zM435 151h3v2h-3zM347 154h2v2h-2zM586 154h2v3h-2zM500 156h3v1h-3zM531 154h3v3h-3zM437 157h3v1h-3zM340 156h2v3h-2zM550 156h3v3h-3zM567 156h3v3h-3zM498 157h5v2h-5zM139 158h2v2h-2zM397 159h5v1h-5zM405 159h3v1h-3zM139 160h3v1h-3zM145 158h5v3h-5zM403 160h5v2h-5zM454 160h2v2h-2zM330 162h3v1h-3zM397 162h2v1h-2zM500 161h3v2h-3zM347 161h2v3h-2zM359 162h2v2h-2zM405 162h3v2h-3zM311 159h3v5h-3zM487 162h3v2h-3zM397 163h3v1h-3zM393 161h3v3h-3zM456 162h3v3h-3zM340 161h2v4h-2zM498 163h2v2h-2zM279 164h3v1h-3zM328 163h2v2h-2zM342 165h3v1h-3zM403 164h2v3h-2zM456 166h3v2h-3zM450 166h3v2h-3zM466 164h2v4h-2zM380 166h3v3h-3zM397 168h2v1h-2zM393 166h3v3h-3zM487 166h3v3h-3zM242 167h3v3h-3zM315 168h2v3h-2zM605 168h2v3h-2zM573 167h3v4h-3zM328 167h2v4h-2zM405 168h3v3h-3zM468 170h3v1h-3zM456 169h3v3h-3zM424 170h3v2h-3zM393 170h3v3h-3zM450 171h3v2h-3zM492 172h2v1h-2zM523 171h2v3h-2zM342 172h3v3h-3zM573 173h6v2h-6zM475 173h3v2h-3zM328 172h2v3h-2zM447 173h3v2h-3zM468 173h3v2h-3zM487 173h3v2h-3zM397 173h2v3h-2zM573 175h3v1h-3zM525 174h3v2h-3zM315 175h2v2h-2zM494 175h3v2h-3zM296 175h2v2h-2zM349 174h3v3h-3zM195 175h3v3h-3zM450 175h3v3h-3zM258 175h2v3h-2zM347 178h2v1h-2zM492 177h2v2h-2zM523 178h2v2h-2zM492 179h5v1h-5zM403 178h2v2h-2zM254 176h3v5h-3zM342 179h3v2h-3zM233 179h2v2h-2zM481 179h3v2h-3zM380 179h3v3h-3zM462 175h3v7h-3zM311 179h3v3h-3zM286 179h3v4h-3zM258 180h2v3h-2zM437 182h3v1h-3zM525 180h3v3h-3zM422 183h2v1h-2zM290 182h2v2h-2zM359 182h5v2h-5zM340 183h2v1h-2zM494 180h3v4h-3zM328 181h2v3h-2zM298 181h3v3h-3zM328 184h3v1h-3zM422 184h3v1h-3zM460 184h2v1h-2zM242 183h3v3h-3zM481 183h3v3h-3zM399 184h3v2h-3zM391 183h2v3h-2zM443 186h3v1h-3zM397 186h2v1h-2zM460 185h3v2h-3zM580 185h3v2h-3zM258 184h2v3h-2zM435 183h2v4h-2zM580 187h2v1h-2zM328 185h2v3h-2zM456 187h3v2h-3zM315 187h5v2h-5zM342 188h3v2h-3zM235 187h3v3h-3zM315 189h2v1h-2zM397 189h2v3h-2zM441 187h5v5h-5zM573 190h3v3h-3zM475 194h3v1h-3zM500 194h3v2h-3zM252 194h5v2h-5zM252 196h2v1h-2zM473 195h5v2h-5zM561 196h2v1h-2zM573 196h3v1h-3zM492 196h5v2h-5zM557 196h3v2h-3zM258 197h3v2h-3zM519 197h3v2h-3zM563 197h3v2h-3zM555 198h5v1h-5zM456 197h3v3h-3zM473 199h2v1h-2zM529 194h2v6h-2zM513 196h3v4h-3zM504 197h2v3h-2zM555 199h3v1h-3zM139 200h3v1h-3zM529 200h3v1h-3zM479 198h2v3h-2zM525 199h3v2h-3zM252 198h5v3h-5zM555 200h5v1h-5zM561 199h5v2h-5zM126 200h3v1h-3zM473 200h3v2h-3zM561 201h2v1h-2zM466 200h2v2h-2zM126 201h5v2h-5zM529 201h5v2h-5zM538 202h3v1h-3zM506 201h3v2h-3zM139 201h2v2h-2zM116 200h3v3h-3zM513 201h3v2h-3zM557 201h3v2h-3zM519 201h3v3h-3zM494 201h3v3h-3zM475 202h3v2h-3zM128 203h3v1h-3zM531 203h3v1h-3zM223 203h3v2h-3zM454 202h3v3h-3zM500 203h3v2h-3zM487 203h3v2h-3zM529 204h5v2h-5zM544 204h3v2h-3zM563 203h3v3h-3zM525 205h3v1h-3zM573 204h3v2h-3zM248 205h3v2h-3zM588 204h3v3h-3zM498 205h2v2h-2zM536 205h5v2h-5zM466 205h2v2h-2zM229 205h3v3h-3zM210 207h3v2h-3zM523 206h2v3h-2zM529 206h2v3h-2zM475 206h3v3h-3zM223 208h3v2h-3zM542 209h2v1h-2zM473 210h3v1h-3zM246 208h2v3h-2zM519 210h3v2h-3zM246 211h3v1h-3zM542 210h3v2h-3zM454 209h3v3h-3zM216 209h3v3h-3zM462 210h3v3h-3zM475 211h3v2h-3zM548 208h5v5h-5zM664 210h3v3h-3zM557 211h3v2h-3zM504 209h5v5h-5zM573 211h6v3h-6zM517 212h5v3h-5zM576 214h3v1h-3zM580 214h3v1h-3zM542 212h5v4h-5zM506 214h3v2h-3zM246 214h2v2h-2zM555 213h5v3h-5zM246 216h5v1h-5zM466 216h3v1h-3zM479 216h2v1h-2zM592 214h2v3h-2zM536 216h3v1h-3zM531 216h3v1h-3zM557 216h3v1h-3zM569 215h3v3h-3zM229 216h3v2h-3zM563 216h3v3h-3zM216 216h3v3h-3zM492 217h2v2h-2zM542 216h2v3h-2zM548 219h2v1h-2zM492 219h5v1h-5zM506 219h3v2h-3zM624 219h3v2h-3zM529 217h2v4h-2zM548 220h3v1h-3zM479 219h5v3h-5zM498 221h2v1h-2zM494 220h3v2h-3zM523 221h2v1h-2zM466 221h2v1h-2zM479 222h3v1h-3zM542 221h5v2h-5zM466 222h3v1h-3zM229 220h3v3h-3zM202 221h3v2h-3zM605 222h3v1h-3zM498 222h3v1h-3zM523 222h3v1h-3zM561 221h2v3h-2zM548 221h5v3h-5zM573 221h3v3h-3zM210 224h3v1h-3zM548 224h3v1h-3zM611 222h3v3h-3zM555 223h5v2h-5zM498 225h2v1h-2zM555 225h2v1h-2zM523 223h2v3h-2zM519 226h3v2h-3zM494 226h3v2h-3zM542 226h2v2h-2zM561 225h3v3h-3zM498 226h5v2h-5zM523 226h3v2h-3zM548 226h2v3h-2zM500 228h3v1h-3zM160 227h3v3h-3zM492 228h5v3h-5zM492 231h3v1h-3zM485 230h3v2h-3zM536 230h5v2h-5zM536 232h2v1h-2zM479 230h2v3h-2zM555 230h5v3h-5zM605 231h3v3h-3zM485 232h5v2h-5zM492 232h5v3h-5zM488 234h2v1h-2zM555 233h3v2h-3zM519 232h3v4h-3zM586 234h3v2h-3zM586 236h2v1h-2zM517 236h5v1h-5zM624 232h3v8h-3zM573 238h3v3h-3zM517 237h3v5h-3zM536 237h3v5h-3zM630 240h3v3h-3zM569 243h3v4h-3zM662 246h3v2h-3zM588 249h3v1h-3zM599 249h3v1h-3zM630 245h3v5h-3zM594 247h3v5h-3zM536 249h3v3h-3zM548 249h3v3h-3zM586 250h5v2h-5zM662 251h3v2h-3zM611 249h3v4h-3zM517 249h3v5h-3zM599 252h3v2h-3zM555 252h3v2h-3zM576 252h3v3h-3zM567 252h2v3h-2zM618 254h3v2h-3zM605 255h3v1h-3zM506 257h3v2h-3zM573 257h3v2h-3zM517 258h3v2h-3zM507 259h2v1h-2zM189 258h3v2h-3zM567 259h5v2h-5zM563 258h3v3h-3zM624 258h3v3h-3zM513 258h3v3h-3zM618 258h3v3h-3zM569 261h3v1h-3zM538 259h3v3h-3zM485 259h3v3h-3zM586 261h2v2h-2zM649 260h3v3h-3zM567 262h5v2h-5zM662 262h3v2h-3zM605 262h3v3h-3zM76 264h3v3h-3zM567 266h2v1h-2zM630 265h3v2h-3zM189 266h3v1h-3zM611 265h3v3h-3zM538 266h3v3h-3zM580 266h2v3h-2zM555 266h3v3h-3zM567 267h3v2h-3zM195 267h3v3h-3zM506 267h3v3h-3zM189 270h3v2h-3zM544 270h3v3h-3zM82 272h3v2h-3zM183 270h3v5h-3zM145 272h3v3h-3zM618 272h3v3h-3zM76 270h3v6h-3zM101 270h3v6h-3zM195 274h3v3h-3zM531 276h3v3h-3zM513 276h3v3h-3zM525 274h3v5h-3zM69 279h3v3h-3zM176 280h3v3h-3zM132 288h3v2h-3zM599 289h2v3h-2zM649 289h3v3h-3zM525 289h3v3h-3zM624 299h3v3h-3zM655 299h3v3h-3zM569 299h3v3h-3zM573 302h3v2h-3zM176 302h3v3h-3zM573 304h6v1h-6zM592 304h3v3h-3zM576 305h3v2h-3zM668 306h3v3h-3zM158 306h3v3h-3zM649 317h3v3h-3zM116 324h3v3h-3zM670 330h3v3h-3z"/><path fill="#80ffb4" d="M210 58h3v3h-3zM460 67h2v2h-2zM460 69h3v1h-3zM456 67h3v3h-3zM279 71h3v3h-3zM418 77h3v3h-3zM513 83h3v3h-3zM517 105h3v3h-3zM435 130h3v3h-3zM506 140h3v4h-3zM513 142h3v2h-3zM510 144h3v3h-3zM504 146h2v3h-2zM592 154h2v3h-2zM498 159h5v2h-5zM456 160h3v2h-3zM492 161h5v2h-5zM504 161h5v2h-5zM536 160h2v3h-2zM494 163h3v1h-3zM513 162h3v2h-3zM284 162h3v2h-3zM485 162h2v2h-2zM555 164h2v1h-2zM462 162h3v3h-3zM548 163h3v2h-3zM504 163h2v2h-2zM454 164h2v1h-2zM277 164h2v1h-2zM531 164h3v1h-3zM284 164h5v1h-5zM544 164h3v1h-3zM454 165h3v1h-3zM487 164h3v2h-3zM569 163h3v3h-3zM523 165h2v2h-2zM519 165h3v2h-3zM561 164h5v3h-5zM454 166h2v1h-2zM510 165h3v2h-3zM286 165h3v2h-3zM529 165h5v2h-5zM538 166h3v2h-3zM550 167h3v1h-3zM506 167h3v1h-3zM542 167h2v1h-2zM498 166h2v2h-2zM542 168h3v1h-3zM279 167h3v2h-3zM561 167h3v2h-3zM567 167h2v2h-2zM485 166h2v3h-2zM523 167h5v2h-5zM485 169h3v1h-3zM525 169h3v1h-3zM536 168h2v2h-2zM517 169h2v2h-2zM645 168h3v3h-3zM555 167h2v4h-2zM620 168h3v3h-3zM487 170h3v1h-3zM664 168h3v3h-3zM286 168h3v3h-3zM542 169h5v2h-5zM561 169h2v3h-2zM191 169h3v3h-3zM567 169h5v3h-5zM550 170h3v2h-3zM454 171h2v1h-2zM544 171h3v1h-3zM462 169h3v4h-3zM531 171h3v2h-3zM519 171h3v2h-3zM561 172h3v1h-3zM510 169h3v4h-3zM454 172h3v2h-3zM561 173h5v1h-5zM542 173h2v1h-2zM403 173h2v1h-2zM557 171h3v3h-3zM403 174h3v1h-3zM298 172h3v3h-3zM506 172h3v3h-3zM494 173h3v2h-3zM555 174h2v2h-2zM563 174h3v2h-3zM403 175h5v1h-5zM513 174h3v2h-3zM460 173h2v3h-2zM529 173h5v3h-5zM233 176h2v1h-2zM531 176h3v1h-3zM405 176h3v1h-3zM550 176h3v1h-3zM506 176h3v1h-3zM492 175h2v2h-2zM555 176h5v1h-5zM519 174h3v4h-3zM561 176h5v2h-5zM460 177h2v1h-2zM403 177h2v1h-2zM473 175h2v3h-2zM279 176h3v3h-3zM233 177h5v2h-5zM510 176h3v3h-3zM557 177h3v2h-3zM538 175h3v5h-3zM435 178h2v2h-2zM504 177h2v3h-2zM563 178h3v2h-3zM258 178h2v2h-2zM525 176h3v4h-3zM242 177h3v3h-3zM517 178h5v2h-5zM248 178h3v2h-3zM531 178h3v3h-3zM542 178h5v3h-5zM437 180h3v2h-3zM405 180h3v2h-3zM548 177h2v5h-2zM271 181h2v2h-2zM481 181h3v2h-3zM242 181h3v2h-3zM555 180h5v3h-5zM260 180h3v3h-3zM510 182h3v2h-3zM460 180h2v4h-2zM468 180h3v4h-3zM563 182h3v3h-3zM525 183h3v2h-3zM498 179h5v6h-5zM517 182h5v3h-5zM473 180h5v5h-5zM454 186h5v1h-5zM267 184h3v3h-3zM510 184h6v3h-6zM246 185h2v3h-2zM576 185h3v3h-3zM510 188h3v2h-3zM286 188h3v2h-3zM284 190h5v2h-5zM456 189h3v3h-3zM284 192h2v1h-2zM485 188h5v5h-5zM536 188h5v5h-5zM510 190h6v3h-6zM223 187h3v6h-3zM588 191h3v2h-3zM492 192h2v2h-2zM277 191h3v3h-3zM589 193h2v1h-2zM492 194h5v2h-5zM443 193h3v3h-3zM576 193h3v3h-3zM456 193h3v3h-3zM481 195h3v2h-3zM523 196h3v1h-3zM185 195h3v3h-3zM542 197h5v1h-5zM506 195h3v6h-3zM494 198h3v3h-3zM82 200h3v1h-3zM485 200h2v2h-2zM195 199h3v3h-3zM468 198h3v4h-3zM544 198h3v4h-3zM82 201h5v2h-5zM103 200h3v3h-3zM525 201h3v2h-3zM466 202h5v1h-5zM164 200h3v3h-3zM107 200h5v3h-5zM84 203h3v1h-3zM523 203h5v1h-5zM229 204h3v1h-3zM523 204h3v1h-3zM468 203h3v2h-3zM506 203h3v3h-3zM523 205h2v1h-2zM223 205h3v1h-3zM485 203h2v4h-2zM473 206h2v3h-2zM487 207h3v2h-3zM542 207h5v2h-5zM479 207h2v3h-2zM492 205h2v5h-2zM462 208h3v2h-3zM473 209h3v1h-3zM468 207h3v3h-3zM544 209h3v1h-3zM229 209h3v3h-3zM160 210h3v3h-3zM649 210h3v3h-3zM473 211h2v3h-2zM611 211h3v3h-3zM454 212h3v3h-3zM223 214h3v1h-3zM229 213h3v3h-3zM525 216h3v1h-3zM611 215h3v2h-3zM519 216h3v3h-3zM479 217h5v2h-5zM538 217h3v3h-3zM229 218h3v2h-3zM223 223h3v1h-3zM97 222h3v3h-3zM479 223h2v2h-2zM605 223h3v2h-3zM517 223h2v3h-2zM611 226h3v3h-3zM538 228h3v2h-3zM517 228h2v2h-2zM405 227h3v3h-3zM517 232h2v2h-2zM662 232h3v3h-3zM538 232h3v3h-3zM668 232h3v3h-3zM592 232h3v3h-3zM525 234h3v3h-3zM582 234h3v3h-3zM580 237h5v1h-5zM580 238h3v1h-3zM588 236h3v3h-3zM618 239h3v3h-3zM662 240h3v3h-3zM662 244h3v2h-3zM594 243h3v3h-3zM599 246h3v1h-3zM592 247h2v2h-2zM611 247h3v2h-3zM544 246h3v3h-3zM485 248h2v2h-2zM662 248h3v3h-3zM485 250h3v1h-3zM525 247h3v5h-3zM592 250h2v2h-2zM563 252h3v2h-3zM636 253h3v1h-3zM573 252h3v3h-3zM594 252h3v3h-3zM573 255h6v1h-6zM536 253h3v3h-3zM611 254h3v3h-3zM576 256h3v1h-3zM210 255h3v2h-3zM636 256h3v3h-3zM536 258h3v1h-3zM662 255h3v5h-3zM592 259h2v2h-2zM536 259h2v2h-2zM636 260h3v2h-3zM576 261h3v1h-3zM592 261h5v1h-5zM555 262h3v1h-3zM525 263h3v1h-3zM594 262h3v2h-3zM555 263h2v2h-2zM82 264h3v2h-3zM504 264h2v2h-2zM526 264h2v2h-2zM624 265h3v2h-3zM573 264h3v3h-3zM195 266h3v1h-3zM504 266h3v1h-3zM563 266h3v3h-3zM176 267h3v3h-3zM624 268h3v2h-3zM183 265h3v5h-3zM69 270h3v3h-3zM531 264h3v9h-3zM517 268h3v5h-3zM630 272h3v2h-3zM599 274h3v3h-3zM517 276h3v2h-3zM636 274h3v4h-3zM517 278h2v1h-2zM176 277h3v3h-3zM643 281h3v2h-3zM601 289h3v3h-3zM107 290h3v2h-3zM510 296h3v3h-3zM116 301h3v3h-3zM655 302h3v2h-3zM536 303h3v3h-3zM655 314h3v3h-3zM164 315h3v3h-3zM170 316h3v3h-3zM605 316h3v3h-3zM569 322h3v3h-3z"/><path fill="#b2f396" d="M450 67h3v3h-3zM506 83h3v3h-3zM492 154h5v1h-5zM492 155h2v2h-2zM492 157h5v1h-5zM494 158h3v1h-3zM71 158h3v3h-3zM82 158h5v3h-5zM485 160h5v2h-5zM538 160h3v3h-3zM510 162h3v2h-3zM492 163h2v1h-2zM519 164h3v1h-3zM567 163h2v2h-2zM485 164h2v2h-2zM492 166h2v1h-2zM525 164h3v3h-3zM632 166h3v2h-3zM492 167h3v1h-3zM500 166h3v2h-3zM630 168h5v1h-5zM630 169h3v2h-3zM538 168h3v3h-3zM531 169h3v2h-3zM519 169h3v2h-3zM494 170h3v2h-3zM487 171h3v2h-3zM525 171h3v3h-3zM519 173h3v1h-3zM538 173h3v2h-3zM500 172h3v3h-3zM569 172h3v4h-3zM510 173h3v3h-3zM517 174h2v3h-2zM487 175h3v3h-3zM523 174h2v4h-2zM513 176h3v3h-3zM481 177h3v2h-3zM494 177h3v2h-3zM567 178h2v1h-2zM529 178h2v3h-2zM235 179h3v2h-3zM567 179h5v2h-5zM569 181h3v1h-3zM435 182h2v1h-2zM485 179h5v5h-5zM466 180h2v4h-2zM580 181h3v3h-3zM479 181h2v3h-2zM487 184h3v1h-3zM573 182h3v3h-3zM485 185h5v1h-5zM550 183h3v3h-3zM437 185h3v2h-3zM466 184h5v3h-5zM485 186h3v2h-3zM525 185h3v3h-3zM435 187h2v3h-2zM454 187h2v5h-2zM550 190h3v2h-3zM548 192h5v5h-5zM223 196h3v1h-3zM487 196h3v2h-3zM485 198h2v2h-2zM573 197h3v4h-3zM76 200h3v1h-3zM492 198h2v3h-2zM487 202h3v1h-3zM223 199h3v4h-3zM76 201h2v2h-2zM504 203h2v1h-2zM95 201h2v3h-2zM582 201h3v3h-3zM233 202h2v2h-2zM567 203h3v3h-3zM592 203h3v3h-3zM487 205h3v2h-3zM573 206h3v3h-3zM506 206h3v3h-3zM580 207h3v3h-3zM485 207h2v3h-2zM592 207h3v3h-3zM611 208h3v3h-3zM494 210h3v3h-3zM223 212h3v2h-3zM605 212h3v3h-3zM529 213h5v3h-5zM235 215h3v2h-3zM544 216h3v1h-3zM233 217h5v1h-5zM223 217h3v2h-3zM605 216h3v4h-3zM233 218h2v2h-2zM542 219h2v2h-2zM475 219h3v2h-3zM611 220h3v2h-3zM223 221h3v2h-3zM473 221h5v2h-5zM235 222h3v2h-3zM544 223h3v2h-3zM233 224h5v2h-5zM605 227h3v2h-3zM223 224h3v5h-3zM582 226h3v3h-3zM97 227h3v3h-3zM90 227h3v3h-3zM544 228h3v3h-3zM233 226h2v5h-2zM573 230h3v3h-3zM235 231h3v2h-3zM588 230h3v3h-3zM567 230h3v4h-3zM582 230h3v4h-3zM542 232h5v3h-5zM573 234h3v4h-3zM235 235h3v3h-3zM618 236h3v3h-3zM586 238h2v1h-2zM599 237h3v3h-3zM630 236h3v4h-3zM662 235h3v5h-3zM586 239h3v2h-3zM582 239h3v3h-3zM599 243h3v3h-3zM592 243h2v3h-2zM611 245h3v2h-3zM668 245h3v2h-3zM655 243h3v4h-3zM588 245h3v3h-3zM599 247h3v2h-3zM624 247h3v2h-3zM592 249h2v1h-2zM544 251h3v3h-3zM605 253h3v2h-3zM569 252h3v3h-3zM592 254h2v1h-2zM630 254h3v2h-3zM592 255h3v1h-3zM668 254h3v3h-3zM582 254h3v3h-3zM563 254h3v3h-3zM189 256h3v2h-3zM618 256h3v2h-3zM567 255h5v3h-5zM643 256h3v2h-3zM567 258h3v1h-3zM576 257h3v2h-3zM588 258h3v1h-3zM592 256h2v3h-2zM525 256h3v3h-3zM544 257h3v3h-3zM605 256h3v5h-3zM611 258h3v3h-3zM580 257h5v5h-5zM567 261h2v1h-2zM630 261h3v2h-3zM183 261h3v2h-3zM525 260h3v3h-3zM592 263h2v1h-2zM573 262h6v2h-6zM611 263h3v2h-3zM655 259h3v6h-3zM592 264h3v1h-3zM582 262h3v3h-3zM517 260h3v6h-3zM580 265h5v1h-5zM569 264h3v3h-3zM576 266h3v1h-3zM592 265h5v3h-5zM662 266h3v2h-3zM624 267h3v1h-3zM588 267h3v2h-3zM573 267h6v2h-6zM573 269h3v1h-3zM76 269h3v1h-3zM643 269h3v2h-3zM649 270h3v2h-3zM611 269h3v7h-3zM573 272h3v4h-3zM517 274h3v2h-3zM662 273h3v3h-3zM655 274h3v3h-3zM189 274h3v3h-3zM544 274h3v3h-3zM624 270h3v7h-3zM649 274h3v3h-3zM487 275h3v3h-3zM555 276h3v3h-3zM643 283h3v3h-3zM252 285h2v3h-2zM248 285h3v3h-3zM576 299h3v3h-3zM170 305h3v2h-3zM626 305h3v3h-3zM97 307h3v3h-3zM145 308h3v3h-3zM576 313h3v3h-3zM613 335h3v1h-3z"/><path fill="#e5ce74" d="M510 83h3v3h-3zM611 158h3v3h-3zM620 158h3v3h-3zM670 158h3v3h-3zM498 161h2v2h-2zM500 165h3v1h-3zM504 167h2v1h-2zM657 166h3v3h-3zM523 169h2v1h-2zM523 170h3v1h-3zM504 170h2v2h-2zM567 172h2v2h-2zM504 174h2v1h-2zM498 172h2v3h-2zM504 175h3v1h-3zM504 176h2v1h-2zM239 178h3v2h-3zM523 180h2v3h-2zM542 181h3v3h-3zM555 183h3v3h-3zM536 184h3v3h-3zM523 185h2v3h-2zM555 187h3v3h-3zM580 189h3v3h-3zM567 189h3v3h-3zM504 194h5v1h-5zM517 194h5v3h-5zM605 194h3v3h-3zM504 195h2v2h-2zM624 194h3v4h-3zM588 196h3v3h-3zM580 196h3v4h-3zM517 199h5v2h-5zM481 197h3v5h-3zM517 201h2v1h-2zM542 200h2v2h-2zM71 200h3v3h-3zM542 202h5v1h-5zM580 200h2v3h-2zM544 203h3v1h-3zM88 201h5v3h-5zM479 204h2v1h-2zM479 205h3v1h-3zM479 206h5v1h-5zM481 207h3v2h-3zM525 206h3v3h-3zM504 204h2v5h-2zM592 210h3v2h-3zM594 212h3v4h-3zM536 217h2v2h-2zM517 216h2v3h-2zM523 217h2v2h-2zM523 219h5v1h-5zM611 217h3v3h-3zM544 217h3v4h-3zM624 221h3v1h-3zM525 220h3v2h-3zM536 221h5v3h-5zM586 224h2v2h-2zM536 225h3v1h-3zM536 228h2v2h-2zM592 229h3v3h-3zM517 230h2v2h-2zM668 230h3v2h-3zM525 230h3v4h-3zM599 233h3v2h-3zM580 234h2v3h-2zM580 239h2v3h-2zM624 243h3v2h-3zM529 244h3v2h-3zM655 247h3v2h-3zM624 249h3v1h-3zM599 250h3v2h-3zM636 251h3v2h-3zM655 250h3v3h-3zM586 252h3v2h-3zM624 254h3v2h-3zM599 254h3v2h-3zM542 254h3v3h-3zM649 256h3v2h-3zM668 258h3v1h-3zM525 259h3v1h-3zM643 258h3v3h-3zM636 262h3v1h-3zM611 262h3v1h-3zM668 261h3v2h-3zM643 262h3v3h-3zM586 263h2v3h-2zM586 266h3v1h-3zM526 266h2v1h-2zM586 267h2v1h-2zM605 265h3v3h-3zM662 268h3v1h-3zM525 267h3v2h-3zM544 267h3v3h-3zM599 267h3v3h-3zM573 270h3v2h-3zM555 269h3v3h-3zM662 271h3v2h-3zM636 269h3v5h-3zM555 274h3v2h-3zM573 276h3v3h-3zM636 278h3v2h-3zM109 282h3v3h-3zM254 285h3v3h-3zM655 307h3v4h-3zM668 313h3v3h-3zM582 320h3v3h-3z"/><path fill="#ff964f" d="M624 158h3v3h-3zM550 168h3v2h-3zM548 170h2v2h-2zM561 182h2v3h-2zM639 211h3v3h-3zM613 231h3v3h-3zM599 261h3v2h-3zM544 262h3v3h-3zM599 272h3v2h-3zM655 285h3v3h-3z"/><path fill="#ff4f28" d="M605 158h3v3h-3zM618 158h2v3h-2zM599 230h3v3h-3z"/><path fill="#ff0000" d="M662 165h3v3h-3zM668 165h5v3h-5zM82 166h3v3h-3zM548 182h3v1h-3zM548 183h2v2h-2zM567 182h3v3h-3zM481 187h3v2h-3zM473 188h3v3h-3zM580 193h5v3h-5zM586 193h3v3h-3zM573 193h3v3h-3z"/></g><path d="M68.5 45.5H673.5V347.5H68.5ZM64 347.5h4M674 347.5h4M64 325.5h4M674 325.5h4M64 304.5h4M674 304.5h4M64 282.5h4M674 282.5h4M64 261.5h4M674 261.5h4M64 239.5h4M674 239.5h4M64 218.5h4M674 218.5h4M64 196.5h4M674 196.5h4M64 174.5h4M674 174.5h4M64 153.5h4M674 153.5h4M64 131.5h4M674 131.5h4M64 110.5h4M674 110.5h4M64 88.5h4M674 88.5h4M64 67.5h4M674 67.5h4M64 45.5h4M674 45.5h4M68.5 41v4M68.5 348v4M118.5 41v4M118.5 348v4M169.5 41v4M169.5 348v4M219.5 41v4M219.5 348v4M270.5 41v4M270.5 348v4M320.5 41v4M320.5 348v4M371.5 41v4M371.5 348v4M421.5 41v4M421.5 348v4M471.5 41v4M471.5 348v4M522.5 41v4M522.5 348v4M572.5 41v4M572.5 348v4M623.5 41v4M623.5 348v4M673.5 41v4M673.5 348v4" fill="none" stroke="#000" stroke-width="1" shape-rendering="crispEdges"/><rect x="692" y="45" width="30" height="28" fill="#ff0000" shape-rendering="crispEdges"/><rect x="692" y="73" width="30" height="28" fill="#ff4f28" shape-rendering="crispEdges"/><rect x="692" y="101" width="30" height="27" fill="#ff964f" shape-rendering="crispEdges"/><rect x="692" y="128" width="30" height="27" fill="#e5ce74" shape-rendering="crispEdges"/><rect x="692" y="155" width="30" height="28" fill="#b2f396" shape-rendering="crispEdges"/><rect x="692" y="183" width="30" height="27" fill="#80ffb4" shape-rendering="crispEdges"/><rect x="692" y="210" width="30" height="28" fill="#4df3ce" shape-rendering="crispEdges"/><rect x="692" y="238" width="30" height="27" fill="#19cee3" shape-rendering="crispEdges"/><rect x="692" y="265" width="30" height="28" fill="#1996f3" shape-rendering="crispEdges"/><rect x="692" y="293" width="30" height="27" fill="#4c4ffc" shape-rendering="crispEdges"/><rect x="692" y="320" width="30" height="27" fill="#8000ff" shape-rendering="crispEdges"/><path d="M692.5 45.5H722.5V347.5H692.5ZM693 347.5h4M718 347.5h4M693 325.5h4M718 325.5h4M693 304.5h4M718 304.5h4M693 282.5h4M718 282.5h4M693 261.5h4M718 261.5h4M693 239.5h4M718 239.5h4M693 218.5h4M718 218.5h4M693 196.5h4M718 196.5h4M693 174.5h4M718 174.5h4M693 153.5h4M718 153.5h4M693 131.5h4M718 131.5h4M693 110.5h4M718 110.5h4M693 88.5h4M718 88.5h4M693 67.5h4M718 67.5h4M693 45.5h4M718 45.5h4" fill="none" stroke="#000" stroke-width="1" shape-rendering="crispEdges"/><text x="55" y="351" text-anchor="end">1</text><text x="55" y="330" text-anchor="end">2</text><text x="55" y="308" text-anchor="end">3</text><text x="55" y="287" text-anchor="end">4</text><text x="55" y="265" text-anchor="end">5</text><text x="55" y="244" text-anchor="end">6</text><text x="55" y="222" text-anchor="end">7</text><text x="55" y="200" text-anchor="end">8</text><text x="55" y="179" text-anchor="end">9</text><text x="55" y="157" text-anchor="end">10</text><text x="55" y="136" text-anchor="end">11</text><text x="55" y="114" text-anchor="end">12</text><text x="55" y="93" text-anchor="end">13</text><text x="55" y="71" text-anchor="end">14</text><text x="55" y="49" text-anchor="end">15</text><text x="68.0" y="370" text-anchor="middle">00</text><text x="118.4" y="370" text-anchor="middle">02</text><text x="168.8" y="370" text-anchor="middle">04</text><text x="219.2" y="370" text-anchor="middle">06</text><text x="269.7" y="370" text-anchor="middle">08</text><text x="320.1" y="370" text-anchor="middle">10</text><text x="370.5" y="370" text-anchor="middle">12</text><text x="420.9" y="370" text-anchor="middle">14</text><text x="471.3" y="370" text-anchor="middle">16</text><text x="521.8" y="370" text-anchor="middle">18</text><text x="572.2" y="370" text-anchor="middle">20</text><text x="622.6" y="370" text-anchor="middle">22</text><text x="673.0" y="370" text-anchor="middle">00</text><text x="735" y="351">39</text><text x="735" y="330">42</text><text x="735" y="308">45</text><text x="735" y="287">48</text><text x="735" y="265">51</text><text x="735" y="244">54</text><text x="735" y="222">57</text><text x="735" y="200">60</text><text x="735" y="179">63</text><text x="735" y="157">66</text><text x="735" y="136">69</text><text x="735" y="114">72</text><text x="735" y="93">75</text><text x="735" y="71">78</text><text x="735" y="49">81</text><text x="370" y="27" text-anchor="middle">2025-09-04</text><text x="370" y="392" text-anchor="middle">UT Time / hrs</text><text transform="translate(17,195.5) rotate(-90)" text-anchor="middle" style="font-size:16.18px">Frequency / MHz</text><text transform="translate(765,196.5) rotate(-90)" text-anchor="middle" style="font-size:16.18px">Signal Amplitude / dB</text></svg></body></html>
